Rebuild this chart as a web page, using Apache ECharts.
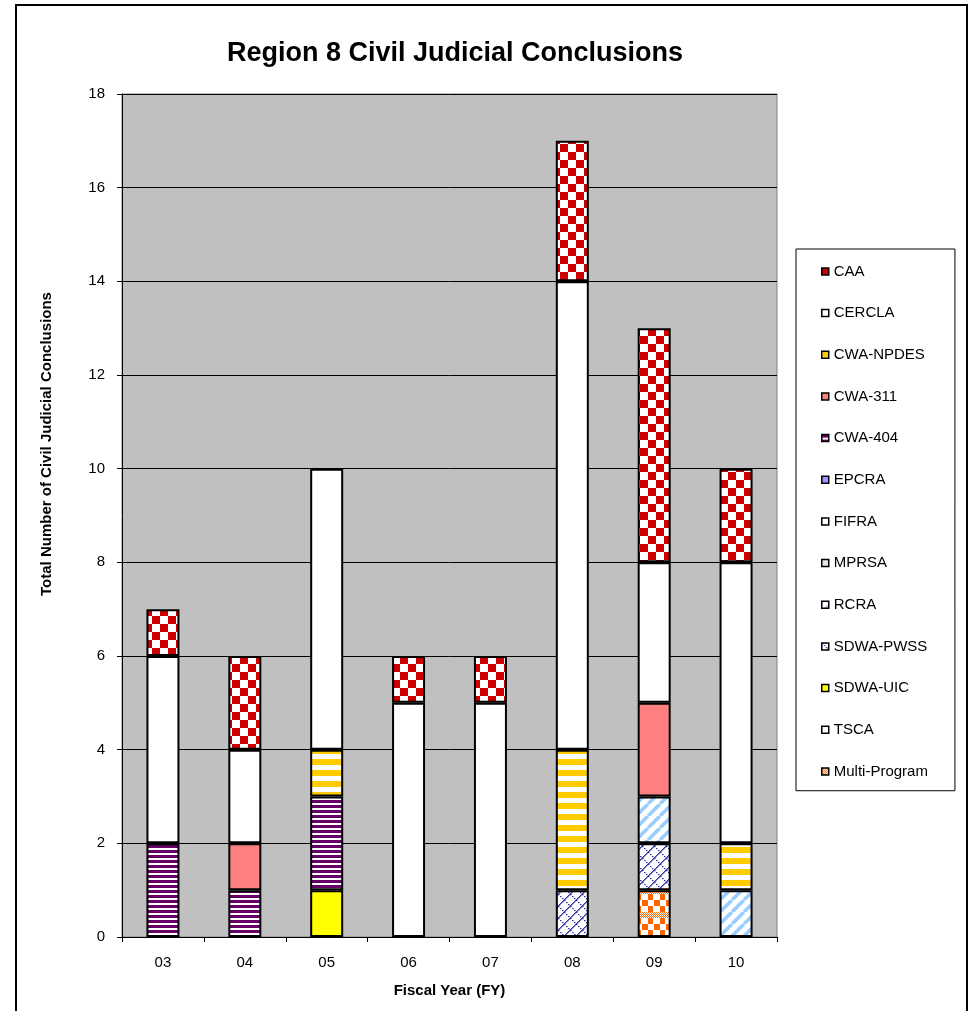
<!DOCTYPE html>
<html><head><meta charset="utf-8">
<script src="https://cdn.jsdelivr.net/npm/echarts@6/dist/echarts.min.js"></script>
<style>html,body{margin:0;padding:0;background:#fff}#c{width:971px;height:1011px}</style>
</head><body><div id="c"></div>
<script>
// ---- data ----
const categories = ['03','04','05','06','07','08','09','10'];
const CAA       = [1,2,0,1,1,3,5,2];
const CERCLA    = [4,2,6,5,5,10,3,6];
const CWA_NPDES = [0,0,1,0,0,3,0,1];
const CWA_311   = [0,1,0,0,0,0,2,0];
const CWA_404   = [2,1,2,0,0,0,0,0];
const EPCRA     = [0,0,0,0,0,0,0,0];
const FIFRA     = [0,0,0,0,0,0,0,0];
const MPRSA     = [0,0,0,0,0,0,0,0];
const RCRA      = [0,0,0,0,0,0,1,1];
const SDWA_PWSS = [0,0,0,0,0,1,1,0];
const SDWA_UIC  = [0,0,1,0,0,0,0,0];
const TSCA      = [0,0,0,0,0,0,0,0];
const MULTI     = [0,0,0,0,0,0,1,0];
const legendOrder = ['CAA','CERCLA','CWA-NPDES','CWA-311','CWA-404','EPCRA','FIFRA','MPRSA','RCRA','SDWA-PWSS','SDWA-UIC','TSCA','Multi-Program'];
const yMin = 0, yMax = 18, yStep = 2;

// ---- patterns ----
function tile(w, h, draw) {
  const c = document.createElement('canvas');
  c.width = w; c.height = h;
  const g = c.getContext('2d');
  g.fillStyle = '#fff'; g.fillRect(0, 0, w, h);
  draw(g);
  return { image: c, repeat: 'repeat' };
}
const patChecker = tile(16, 16, g => {
  g.fillStyle = '#CC0000';
  g.fillRect(0, 0, 8, 8); g.fillRect(8, 8, 8, 8);
});
const patNpdes = tile(11, 11, g => {
  g.fillStyle = '#FFCC00'; g.fillRect(0, 0, 11, 6);
});
const pat404 = tile(5, 5, g => {
  g.fillStyle = '#660066'; g.fillRect(0, 0, 5, 3);
});
const patRcra = tile(12, 12, g => {
  g.strokeStyle = '#99CCFF'; g.lineWidth = 3.5;
  for (const k of [-12, 0, 12]) { g.beginPath(); g.moveTo(k, 12); g.lineTo(k + 12, 0); g.stroke(); }
});
const patPwss = tile(12, 12, g => {
  g.fillStyle = '#333399';
  for (let i = 0; i < 12; i++) {
    g.fillRect(i, 11 - i, 1.5, 1.2);
    if (i % 2 === 0) g.fillRect(i, i, 1.5, 1.2);
  }
});
const patMulti = tile(12, 24, g => {
  g.fillStyle = '#FF6600';
  // fine checker band
  for (let y = 0; y < 6; y++) for (let x = 0; x < 12; x++) if ((x + y) % 2 === 0) g.fillRect(x, y, 1, 1);
  // large blocks
  g.fillRect(0, 6, 5, 6);
  g.fillRect(6, 12, 6, 6);
  g.fillRect(0, 18, 5, 6);
});

// stack order: bottom to top
const seriesDefs = [
  ['Multi-Program', MULTI, patMulti],
  ['TSCA', TSCA, '#FFFFFF'],
  ['SDWA-UIC', SDWA_UIC, '#FFFF00'],
  ['SDWA-PWSS', SDWA_PWSS, patPwss],
  ['RCRA', RCRA, patRcra],
  ['MPRSA', MPRSA, '#E6E6E6'],
  ['FIFRA', FIFRA, '#FFFFFF'],
  ['EPCRA', EPCRA, '#9999FF'],
  ['CWA-404', CWA_404, pat404],
  ['CWA-311', CWA_311, '#FF8080'],
  ['CWA-NPDES', CWA_NPDES, patNpdes],
  ['CERCLA', CERCLA, '#FFFFFF'],
  ['CAA', CAA, patChecker]
];

const FF = '"Liberation Sans", Arial, sans-serif';
const chart = echarts.init(document.getElementById('c'), null, { renderer: 'canvas' });
chart.setOption({
  animation: false,
  backgroundColor: '#fff',
  grid: {
    left: 122, right: 194, top: 94, bottom: 74, containLabel: false, outerBoundsMode: 'none',
    show: true, backgroundColor: '#C0C0C0', borderColor: '#808080', borderWidth: 1
  },
  xAxis: {
    type: 'category', data: categories,
    axisLine: { show: true, lineStyle: { color: '#000', width: 1 } },
    axisTick: { show: true, length: 5, inside: false, alignWithLabel: false, lineStyle: { color: '#000' } },
    axisLabel: { fontSize: 15, color: '#000', margin: 18, fontFamily: FF },
    splitLine: { show: false }
  },
  yAxis: {
    type: 'value', min: yMin, max: yMax, interval: yStep,
    axisLine: { show: true, lineStyle: { color: '#000', width: 1 } },
    axisTick: { show: true, length: 5, inside: false, lineStyle: { color: '#000' } },
    axisLabel: { fontSize: 15, color: '#000', margin: 17, fontFamily: FF },
    splitLine: { show: true, lineStyle: { color: '#000', width: 1 } }
  },
  legend: {
    data: legendOrder, orient: 'vertical', left: 796, top: 249,
    selectedMode: false, icon: 'rect', itemWidth: 7, itemHeight: 7, itemGap: 25.67,
    itemStyle: { borderColor: '#000', borderWidth: 1.5 },
    textStyle: { fontSize: 15, color: '#000', fontFamily: FF, lineHeight: 16 },
    backgroundColor: '#fff', borderColor: '#000', borderWidth: 1,
    padding: [14.4, 27, 11.3, 25]
  },
  series: seriesDefs.map(([name, vals, color]) => ({
    name, type: 'bar', stack: 'total', barWidth: 33,
    data: vals.map(v => (v === 0 ? '-' : v)),
    itemStyle: { color, borderColor: '#000', borderWidth: 2 },
    emphasis: { disabled: true }
  })),
  graphic: [
    { type: 'rect', shape: { x: 16, y: 5, width: 951, height: 1030 }, style: { fill: 'none', stroke: '#000', lineWidth: 2 }, silent: true },
    { type: 'text', x: 455, y: 54, style: { text: 'Region 8 Civil Judicial Conclusions', fontSize: 27, fontWeight: 'bold', fontFamily: FF, fill: '#000', align: 'center', verticalAlign: 'middle', textAlign: 'center', textVerticalAlign: 'middle' } },
    { type: 'text', x: 449.5, y: 991, style: { text: 'Fiscal Year (FY)', fontSize: 15, fontWeight: 'bold', fontFamily: FF, fill: '#000', align: 'center', verticalAlign: 'middle', textAlign: 'center', textVerticalAlign: 'middle' } },
    { type: 'text', x: 47, y: 444, rotation: Math.PI / 2, style: { text: 'Total Number of Civil Judicial Conclusions', fontSize: 15, fontWeight: 'bold', fontFamily: FF, fill: '#000', align: 'center', verticalAlign: 'middle', textAlign: 'center', textVerticalAlign: 'middle' } }
  ]
});
</script></body></html>
